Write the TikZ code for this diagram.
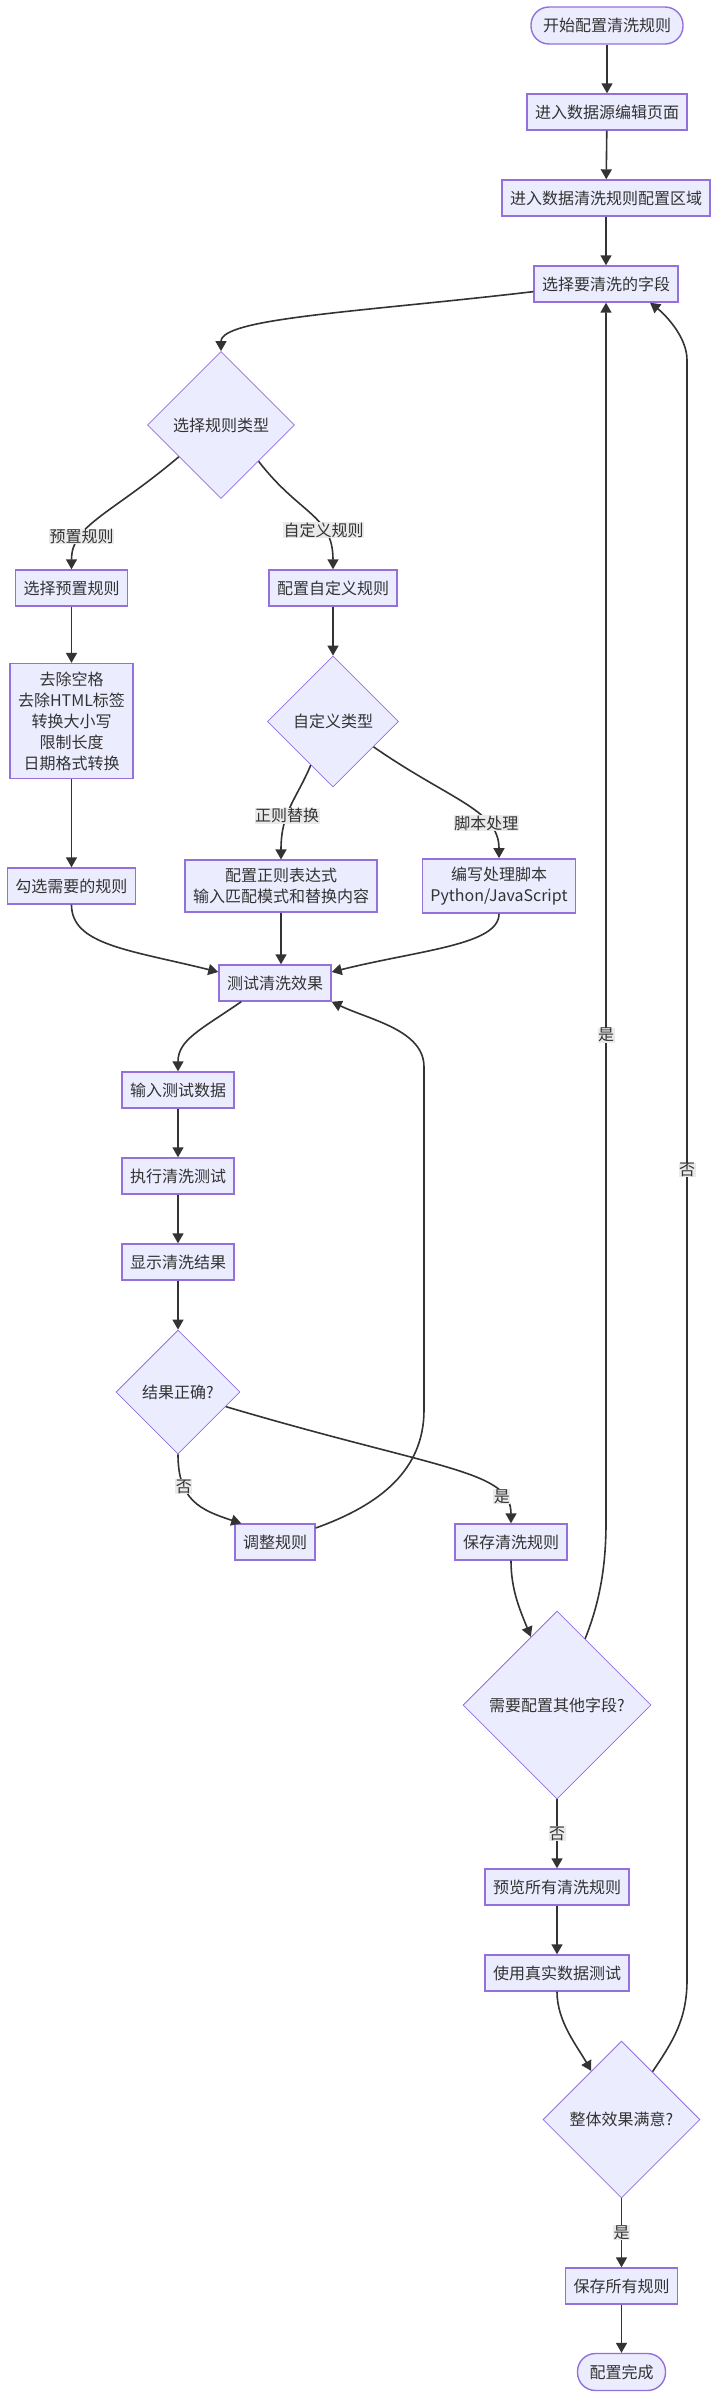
\documentclass[tikz,border=0pt]{standalone}
\usepackage{fontspec}
\setmainfont{Noto Sans CJK SC}
\usetikzlibrary{shapes.geometric,arrows.meta}
\definecolor{nodefill}{HTML}{ECECFF}
\definecolor{nodeline}{HTML}{9370DB}
\definecolor{edgeline}{HTML}{333333}
\definecolor{labelfill}{HTML}{EAEAEA}
\tikzset{
  box/.style={draw=nodeline, fill=nodefill, line width=1.4pt, text=edgeline, minimum height=36pt, inner xsep=8pt, inner ysep=8pt, align=center, font=\fontsize{16}{21}\selectfont},
  term/.style={box, rounded corners=18pt, inner xsep=12pt, minimum height=37pt},
  choice/.style={diamond, aspect=1, draw=nodeline, fill=nodefill, line width=0.8pt, text=edgeline, inner sep=0pt, font=\fontsize{16}{21}\selectfont},
  flow/.style={draw=edgeline, line width=1.6pt, -{Triangle[length=10pt,width=11pt]}},
  elabel/.style={fill=labelfill, text=edgeline, inner sep=0.5pt, font=\fontsize{16}{21}\selectfont}
}
\begin{document}
\begin{tikzpicture}[x=1pt,y=-1pt]
\useasboundingbox (0,0) rectangle (718,2399);
\node[term] (start) at (607,25.5) {开始配置清洗规则};
\node[box] (openSrc) at (607,112) {进入数据源编辑页面};
\node[box] (openClean) at (606,198) {进入数据清洗规则配置区域};
\node[box] (pickField) at (606,284) {选择要清洗的字段};
\node[choice, minimum size=147pt] (ruleType) at (221,425) {选择规则类型};
\node[box] (presetRule) at (71.5,588) {选择预置规则};
\node[box] (customRule) at (333,588) {配置自定义规则};
\node[box] (presetList) at (71.5,721) {去除空格\\去除HTML标签\\转换大小写\\限制长度\\日期格式转换};
\node[choice, minimum size=131pt] (customType) at (333,721.5) {自定义类型};
\node[box] (checkRules) at (71.5,886) {勾选需要的规则};
\node[box] (regexRule) at (281,886) {配置正则表达式\\输入匹配模式和替换内容};
\node[box] (scriptRule) at (499,886) {编写处理脚本\\Python/JavaScript};
\node[box] (testClean) at (275,983) {测试清洗效果};
\node[box] (inputData) at (178,1090) {输入测试数据};
\node[box] (runTest) at (178,1176) {执行清洗测试};
\node[box] (showResult) at (178,1262) {显示清洗结果};
\node[choice, minimum size=124pt] (resultOk) at (178,1392) {结果正确?};
\node[box] (adjustRule) at (275,1542) {调整规则};
\node[box] (saveRule) at (511,1542) {保存清洗规则};
\node[choice, minimum size=188pt] (moreFields) at (557,1705) {需要配置其他字段?};
\node[box] (previewAll) at (557,1887) {预览所有清洗规则};
\node[box] (realTest) at (557,1973) {使用真实数据测试};
\node[choice, minimum size=157pt] (allOk) at (621.5,2119.5) {整体效果满意?};
\node[box] (saveAll) at (621.5,2286) {保存所有规则};
\node[term] (finish) at (621.5,2372) {配置完成};
\draw[flow] (start) -- (openSrc);
\draw[flow] (openSrc) -- (openClean);
\draw[flow] (openClean) -- (pickField);
\draw[flow] (pickField.186) .. controls (360,312) and (221,318) .. (ruleType.north);
\draw[flow] (ruleType.217) .. controls (110,515) and (71.5,525) .. (presetRule.north) node[elabel,pos=0.7] {预置规则};
\draw[flow] (ruleType.-44) .. controls (300,515) and (333,515) .. (customRule.north) node[elabel,pos=0.68] {自定义规则};
\draw[flow] (presetRule) -- (presetList);
\draw[flow] (customRule) -- (customType);
\draw[flow] (presetList) -- (checkRules);
\draw[flow] (customType.243) .. controls (296,800) and (281,812) .. (regexRule.north) node[elabel,pos=0.6] {正则替换};
\draw[flow] (customType.-32) .. controls (450,800) and (499,810) .. (scriptRule.north) node[elabel,pos=0.7] {脚本处理};
\draw[flow] (checkRules.south) .. controls (71.5,945) and (130,950) .. (testClean.169);
\draw[flow] (regexRule) -- (regexRule.south |- testClean.north);
\draw[flow] (scriptRule.south) .. controls (499,945) and (420,950) .. (testClean.11);
\draw[flow] (testClean.-151) .. controls (200,1030) and (178,1040) .. (inputData.north);
\draw[flow] (inputData) -- (runTest);
\draw[flow] (runTest) -- (showResult);
\draw[flow] (showResult) -- (resultOk);
\draw[flow] (resultOk.south) .. controls (178,1500) and (200,1510) .. (adjustRule.151) node[elabel,pos=0.3] {否};
\draw[flow] (resultOk.-17) .. controls (440,1470) and (511,1470) .. (saveRule.north) node[elabel,pos=0.8] {是};
\draw[flow] (adjustRule.19) .. controls (380,1505) and (424,1470) .. (424,1410) -- (424,1067) .. controls (424,1030) and (370,1020) .. (testClean.south east);
\draw[flow] (saveRule.south) .. controls (511,1590) and (520,1610) .. (moreFields.111);
\draw[flow] (moreFields.67) .. controls +(12,-30) and +(0,50) .. (pickField.south |- saveRule.north) -- (pickField.south) node[elabel,pos=0.4] {是};
\draw[flow] (moreFields) -- (previewAll) node[elabel,midway] {否};
\draw[flow] (previewAll) -- (realTest);
\draw[flow] (realTest.south) .. controls +(0,30) and +(-14,-25) .. (allOk.122);
\draw[flow] (allOk.57) .. controls +(20,-30) and +(0,40) .. (687,1980) -- (687,360) node[elabel,midway] {否} .. controls (687,335) and (662,312) .. (pickField.-23);
\draw[flow] (allOk) -- (saveAll) node[elabel,midway] {是};
\draw[flow] (saveAll) -- (finish);
\end{tikzpicture}
\end{document}
